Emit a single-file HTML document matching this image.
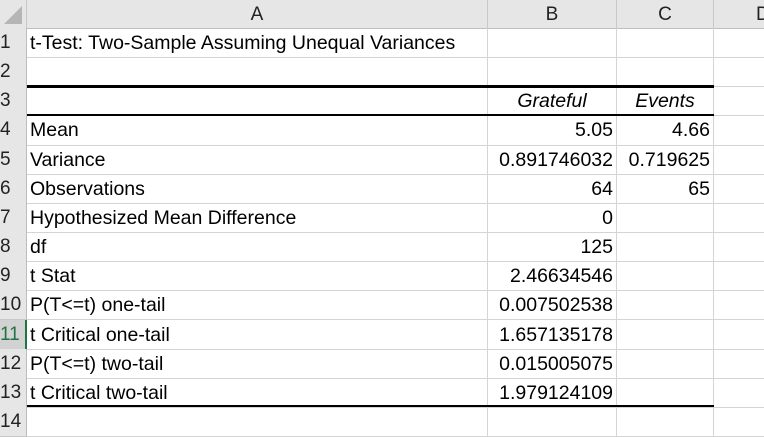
<!DOCTYPE html>
<html><head><meta charset="utf-8"><style>
body{margin:0;width:764px;height:431px;overflow:hidden;background:#fff;font-family:"Liberation Sans",sans-serif;font-size:19.5px;color:#000;position:relative}
.a{position:absolute;box-sizing:border-box}
.hd{background:#e6e6e6;border-right:1px solid #c8c8c8;border-bottom:1px solid #bdbdbd;text-align:center;color:#222;font-size:19px}
.rn{background:#e6e6e6;border-bottom:1px solid #c8c8c8;border-right:1px solid #bdbdbd;color:#222;font-size:19px;padding-left:0;line-height:30px;overflow:visible;white-space:nowrap}
.c{border-right:1px solid #d4d4d4;border-bottom:1px solid #d4d4d4;line-height:31px;white-space:nowrap;overflow:visible;padding:0 3px}
.r{text-align:right}
.i{font-style:italic;text-align:center}
</style></head><body>
<div class="a hd" style="left:0;top:0;width:27px;height:29px"><div style="position:absolute;right:4px;bottom:4px;width:0;height:0;border-left:18px solid transparent;border-bottom:18px solid #b5b5b5"></div></div>
<div class="a hd" style="left:27px;top:0;width:461px;height:29px;line-height:29px">A</div>
<div class="a hd" style="left:488px;top:0;width:129px;height:29px;line-height:29px">B</div>
<div class="a hd" style="left:617px;top:0;width:97px;height:29px;line-height:29px">C</div>
<div class="a hd" style="left:714px;top:0;width:60px;height:29px;line-height:29px;text-align:left;padding-left:42px">D</div>
<div id="grid"></div>
<script>
const labels=["t-Test: Two-Sample Assuming Unequal Variances","","","Mean","Variance","Observations","Hypothesized Mean Difference","df","t Stat","P(T<=t) one-tail","t Critical one-tail","P(T<=t) two-tail","t Critical two-tail",""];
const colB=["","","Grateful","5.05","0.891746032","64","0","125","2.46634546","0.007502538","1.657135178","0.015005075","1.979124109",""];
const colC=["","","Events","4.66","0.719625","65","","","","","","","",""];
const g=document.getElementById('grid');
const top0=28,rh=29.15;
for(let i=0;i<14;i++){
  const y=top0+i*rh;
  const rn=document.createElement('div');
  rn.className='a rn';
  
  
  rn.style.cssText=`left:0;top:${y}px;width:27px;height:${rh+1}px;`+(i==10?'background:#d2d2d2;color:#217346;border-right:2px solid #217346;':'');
  rn.textContent=i+1;g.appendChild(rn);
  const cols=[[27,461,labels[i],''],[488,129,colB[i],i==2?'i':'r'],[617,97,colC[i],i==2?'i':'r'],[714,60,'','']];
  cols.forEach((c,k)=>{
    const d=document.createElement('div');
    d.className='a c '+c[3];
    
    
    d.style.cssText=`left:${c[0]}px;top:${y}px;width:${c[1]}px;height:${rh+1}px;`;
    d.textContent=c[2];g.appendChild(d);
  });
}
[[top0+2*rh-1],[top0+3*rh-1],[top0+13*rh-2]].forEach((t,k)=>{
  const l=document.createElement('div');
  l.className='a';
  
  
  l.style.cssText=`left:27px;top:${t[0]}px;width:687px;height:${k==1?1.5:2.5}px;background:#000`;
  g.appendChild(l);
});
</script>
</body></html>
